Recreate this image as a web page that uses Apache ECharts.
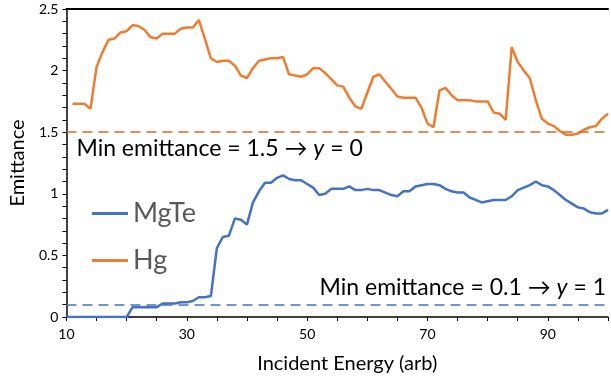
<!DOCTYPE html>
<html><head><meta charset="utf-8">
<script src="https://cdn.jsdelivr.net/npm/echarts@6/dist/echarts.min.js"></script>
<style>html,body{margin:0;padding:0;background:#fff}#c{width:611px;height:379px}</style>
</head><body><div id="c"></div>
<script>
const energy = [10,11,12,13,14,15,16,17,18,19,20,21,22,23,24,25,26,27,28,29,30,31,32,33,34,35,36,37,38,39,40,41,42,43,44,45,46,47,48,49,50,51,52,53,54,55,56,57,58,59,60,61,62,63,64,65,66,67,68,69,70,71,72,73,74,75,76,77,78,79,80,81,82,83,84,85,86,87,88,89,90,91,92,93,94,95,96,97,98,99,100];
const mgte = [0,0,0,0,0,0,0,0,0,0,0,0.08,0.08,0.08,0.08,0.08,0.11,0.11,0.11,0.12,0.12,0.13,0.16,0.16,0.17,0.56,0.65,0.66,0.80,0.79,0.75,0.93,1.02,1.09,1.09,1.13,1.15,1.12,1.11,1.11,1.08,1.05,0.99,1.00,1.04,1.04,1.04,1.06,1.03,1.03,1.04,1.03,1.03,1.01,0.99,0.98,1.02,1.02,1.06,1.07,1.08,1.08,1.07,1.04,1.02,1.01,1.01,0.97,0.95,0.93,0.94,0.95,0.95,0.95,0.98,1.03,1.05,1.07,1.10,1.07,1.06,1.03,0.99,0.95,0.92,0.89,0.88,0.85,0.84,0.84,0.87];
const hg = [null,1.73,1.73,1.73,1.69,2.03,2.15,2.25,2.26,2.31,2.32,2.37,2.36,2.33,2.27,2.26,2.30,2.30,2.30,2.34,2.35,2.35,2.41,2.26,2.10,2.07,2.08,2.08,2.04,1.96,1.94,2.02,2.08,2.09,2.10,2.10,2.11,1.97,1.96,1.95,1.97,2.02,2.02,1.98,1.93,1.88,1.87,1.78,1.71,1.69,1.82,1.95,1.97,1.91,1.85,1.79,1.78,1.78,1.78,1.70,1.57,1.54,1.84,1.86,1.80,1.76,1.76,1.76,1.75,1.75,1.75,1.66,1.65,1.60,2.19,2.07,2.00,1.94,1.76,1.61,1.57,1.55,1.51,1.48,1.48,1.49,1.52,1.54,1.55,1.61,1.65];
const seriesNames = ['MgTe','Hg'];
const minEmittance = [0.1, 1.5];
const thresholdLabels = ['{n|Min emittance = 0.1 → }{i|y}{n| = 1}', '{n|Min emittance = 1.5 → }{i|y}{n| = 0}'];
const xTickLabels = [10,30,50,70,90];
const yTickLabels = [0,0.5,1,1.5,2,2.5];

const F = 'Lato, "Open Sans", sans-serif';
const pair = a => energy.map((x,i)=>[x,a[i]]);
const chart = echarts.init(document.getElementById('c'), null, {renderer:'canvas'});
const rich = {n:{fontFamily:F,fontSize:23,color:'#000'},i:{fontFamily:F,fontSize:23,fontStyle:'italic',color:'#000'}};
chart.setOption({
  animation:false,
  backgroundColor:'#fff',
  grid:{left:60,right:0,top:9,bottom:56,containLabel:false},
  legend:{
    data:[{name:seriesNames[0],icon:'rect'},{name:seriesNames[1],icon:'rect'}],
    orient:'vertical', left:92, top:200, padding:0,
    itemWidth:36, itemHeight:3, itemGap:20,
    textStyle:{fontFamily:F,fontSize:27,color:'#595959'}
  },
  xAxis:[{
    type:'value', min:10, max:100, interval:5,
    axisLine:{lineStyle:{color:'#000',width:1.5}},
    axisTick:{show:true,length:4,lineStyle:{color:'#000',width:1}},
    axisLabel:{color:'#000',fontFamily:F,fontSize:14,margin:10,
      formatter:v=> xTickLabels.includes(v) ? String(v) : ''},
    splitLine:{show:false},
    name:'Incident Energy (arb)', nameLocation:'middle', nameGap:37,
    nameTextStyle:{fontFamily:F,fontSize:20,color:'#000',padding:[0,0,0,20]}
  },{
    type:'value', min:10, max:100, position:'top',
    axisLine:{show:true,lineStyle:{color:'#000',width:2}},
    axisTick:{show:false}, axisLabel:{show:false}, splitLine:{show:false}
  }],
  yAxis:{
    type:'value', min:0, max:2.5, interval:0.1,
    axisLine:{show:true,lineStyle:{color:'#000',width:1.5}},
    axisTick:{show:true,length:4,lineStyle:{color:'#000',width:1}},
    axisLabel:{color:'#000',fontFamily:F,fontSize:14,margin:8,
      formatter:v=>{const r=Math.round(v*10)/10; return yTickLabels.some(t=>Math.abs(t-r)<1e-9) ? String(r) : '';}},
    splitLine:{show:false},
    name:'Emittance', nameLocation:'middle', nameGap:38,
    nameTextStyle:{fontFamily:F,fontSize:20,color:'#000'}
  },
  series:[{
    name:seriesNames[0], type:'line', data:pair(mgte), symbol:'none',
    lineStyle:{color:'#4472C4',width:2.5}, itemStyle:{color:'#4472C4'},
    markLine:{silent:true,symbol:'none',
      label:{show:true,position:'insideEndTop',distance:[2,6],formatter:thresholdLabels[0],rich:rich},
      lineStyle:{type:[10,6],color:'#4472C4',width:1.5},
      data:[{yAxis:minEmittance[0]}]}
  },{
    name:seriesNames[1], type:'line', data:pair(hg), symbol:'none',
    lineStyle:{color:'#ED7D31',width:2.5}, itemStyle:{color:'#ED7D31'},
    markLine:{silent:true,symbol:'none',
      label:{show:true,position:'insideStartBottom',distance:[10,5],formatter:thresholdLabels[1],rich:rich},
      lineStyle:{type:[10,6],color:'#D4691F',width:1.5},
      data:[{yAxis:minEmittance[1]}]}
  }]
});
</script></body></html>
